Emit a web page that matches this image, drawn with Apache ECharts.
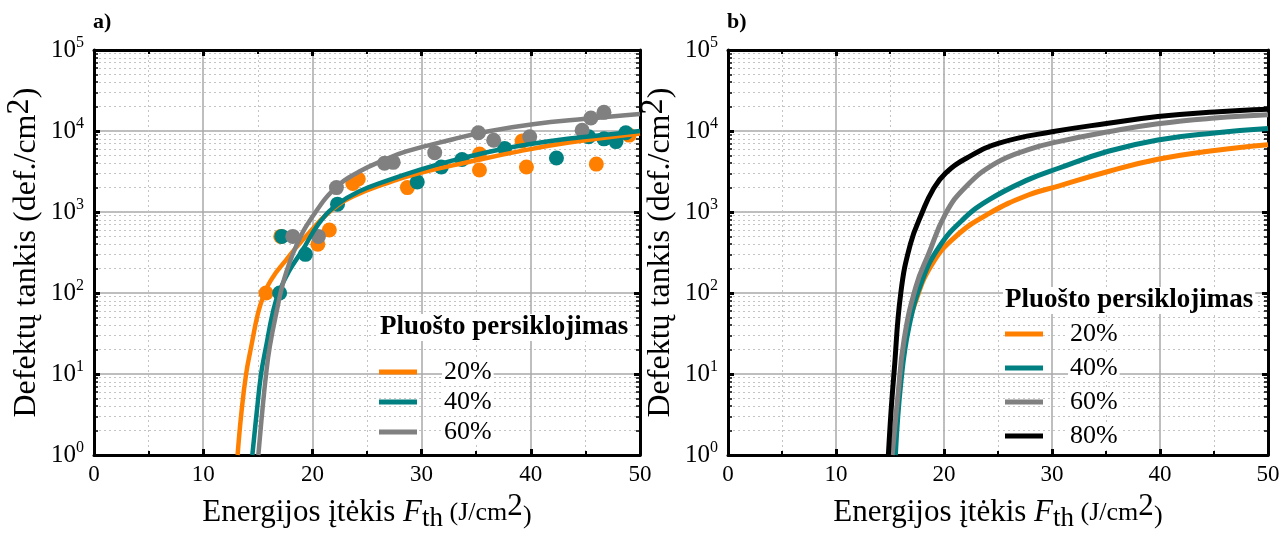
<!DOCTYPE html>
<html><head><meta charset="utf-8">
<script src="https://cdn.jsdelivr.net/npm/echarts@6/dist/echarts.min.js"></script>
<style>html,body{margin:0;padding:0;background:#fff}#c{width:1285px;height:541px}</style>
</head><body><div id="c"></div>
<script>
const FONT = '"Liberation Serif", "Times New Roman", Times, serif';
const xTickValues = [0, 10, 20, 30, 40, 50];
const yTickExponents = [0, 1, 2, 3, 4, 5];
const colorMap = { '20%': '#ff8000', '40%': '#008080', '60%': '#808080', '80%': '#000000' };

// ---- panel a): measured points ----
const ptsA20 = [[15.75,100],[17.1,500],[20.5,400],[21.55,600],[23.7,2250],[24.2,2550],[28.7,2000],[35.3,5200],[35.3,3300],[39.2,7500],[39.6,3600],[46.0,3900],[49.0,8900]];
const ptsA40 = [[17.0,100],[17.2,500],[19.36,300],[22.3,1250],[29.6,2350],[31.8,3600],[33.7,4450],[37.6,6100],[42.35,4650],[45.3,8500],[46.7,8000],[47.8,7400],[48.7,9500]];
const ptsA60 = [[18.2,500],[20.55,500],[22.2,2000],[26.6,4000],[27.4,4100],[31.2,5400],[35.2,9500],[36.6,7700],[39.9,8500],[44.7,10200],[45.5,14500],[46.7,17000]];
// ---- panel a): fitted curves ----
const fitA20 = [[13.15,1],[13.5,3.35],[13.93,10],[14.4,21.9],[15.0,55],[15.5,91],[16.0,129],[16.5,166],[17.0,204],[17.6,257],[18.5,363],[19.4,500],[21.55,1000],[23.7,1550],[26.7,2240],[29.8,3020],[34.4,4170],[38.9,5600],[43.5,7200],[50,9330]];
const fitA40 = [[14.5,1],[14.9,3.35],[15.3,10],[15.76,21.9],[16.37,56.9],[16.9,100],[17.9,190],[19.1,339],[20.6,724],[22.3,1250],[24.3,1800],[26.7,2400],[29.8,3310],[32.8,4300],[37.4,6000],[42.0,7600],[46.6,8910],[50,10000]];
const fitA60 = [[15.05,1],[15.4,3.35],[15.76,10],[16.1,21.9],[16.7,56.9],[17.4,146],[18.5,376],[20.0,871],[22.2,2040],[24.3,3160],[26.7,4470],[28.6,5600],[32.8,7850],[35.9,9800],[40.2,12100],[45.0,14130],[50,16220]];
// ---- panel b): curves ----
const fitB20 = [[15.4,1],[16.3,21.9],[17.4,81],[18.95,234],[21.1,501],[24.15,955],[27.8,1620],[30.6,2090],[35.2,3160],[39.8,4470],[45.05,5750],[50,6760]];
const fitB40 = [[15.5,1],[16.0,7.7],[16.75,38],[18.0,145],[19.55,372],[21.7,794],[24.15,1410],[27.8,2510],[30.6,3470],[35.2,5620],[39.8,7760],[45.05,9450],[50,10720]];
const fitB60 = [[15.2,1],[15.7,4.8],[16.3,26.3],[17.4,120],[18.6,309],[20.15,955],[22.0,2040],[24.75,3980],[27.8,5890],[30.6,7400],[35.2,9770],[39.8,12300],[45.05,14450],[50,15850]];
const fitB80 = [[14.85,1],[15.1,3.5],[15.37,10.2],[16.0,100],[16.9,407],[18.0,1000],[18.95,1860],[20.15,3020],[22.3,4790],[25.1,7080],[30.0,9770],[35.2,12450],[39.8,15100],[45.05,17200],[50,18620]];

const legendA = ['20%', '40%', '60%'];
const legendB = ['20%', '40%', '60%', '80%'];
const legendTitle = 'Pluošto persiklojimas';

const grids = [
  { left: 94, right: 645, top: 50, bottom: 86 },
  { left: 728, right: 17, top: 50, bottom: 86 }
];

function xAxisPair(g) {
  const base = {
    gridIndex: g, type: 'value', min: xTickValues[0], max: xTickValues[xTickValues.length - 1], interval: 10,
    axisLine: { show: true, onZero: false, lineStyle: { color: '#000', width: 3 } },
    axisTick: { show: true, inside: true, length: 6, lineStyle: { color: '#000', width: 3 } },
    minorTick: { show: true, splitNumber: 2, length: 4, lineStyle: { color: '#000', width: 2 } }
  };
  return [
    Object.assign({}, base, {
      position: 'bottom',
      axisLabel: { show: true, color: '#000', fontFamily: FONT, fontSize: 23, margin: 8 },
      splitLine: { show: true, lineStyle: { color: '#a8a8a8', width: 1.5 } },
      minorSplitLine: { show: true, lineStyle: { color: '#c4c4c4', width: 1, type: [2, 3] } },
      name: '{a|Energijos įtėkis }{i|F}{sub|th}{s| (J/cm}{sup|2}{p|)}',
      nameLocation: 'middle', nameGap: 33,
      nameTextStyle: {
        color: '#000', fontFamily: FONT, fontSize: 26,
        rich: {
          a: { fontSize: 31, fontFamily: FONT, color: '#000' },
          i: { fontSize: 31, fontFamily: FONT, fontStyle: 'italic', color: '#000' },
          sub: { fontSize: 27, fontFamily: FONT, color: '#000', padding: [12, 0, 0, 0] },
          s: { fontSize: 26, fontFamily: FONT, color: '#000' },
          p: { fontSize: 26, fontFamily: FONT, color: '#000', width: 9, padding: [6, 0, 0, 0] },
          sup: { fontSize: 31, fontFamily: FONT, color: '#000', padding: [0, 0, 13, 0] }
        }
      }
    }),
    Object.assign({}, base, {
      position: 'top',
      axisLabel: { show: false }, splitLine: { show: false }, minorSplitLine: { show: false }
    })
  ];
}

function yLabel(v) {
  const e = Math.round(Math.log10(v));
  return yTickExponents.indexOf(e) >= 0 ? '{b|10}{s|' + e + '}' : '';
}

function yAxisPair(g) {
  const base = {
    gridIndex: g, type: 'log', logBase: 10, min: 1, max: 100000,
    axisLine: { show: true, onZero: false, lineStyle: { color: '#000', width: 3 } },
    axisTick: { show: true, inside: true, length: 6, lineStyle: { color: '#000', width: 3 } },
    minorTick: { show: true, splitNumber: 9, length: 4, lineStyle: { color: '#000', width: 1.5 } }
  };
  return [
    Object.assign({}, base, {
      position: 'left',
      axisLabel: {
        show: true, margin: 10, formatter: yLabel,
        rich: {
          b: { fontSize: 25, fontFamily: FONT, color: '#000' },
          s: { fontSize: 16, fontFamily: FONT, color: '#000', padding: [0, 0, 14, 0] }
        }
      },
      splitLine: { show: true, lineStyle: { color: '#a8a8a8', width: 1.5 } },
      minorSplitLine: { show: true, lineStyle: { color: '#c4c4c4', width: 1, type: [2, 3] } },
      name: '{a|Defektų tankis (def./cm}{sup|2}{p|)}',
      nameLocation: 'middle', nameGap: 44,
      nameTextStyle: {
        color: '#000', fontFamily: FONT, fontSize: 32,
        rich: {
          a: { fontSize: 32, fontFamily: FONT, color: '#000' },
          p: { fontSize: 32, fontFamily: FONT, color: '#000', width: 11 },
          sup: { fontSize: 32, fontFamily: FONT, color: '#000', padding: [0, 0, 14, 0] }
        }
      }
    }),
    Object.assign({}, base, {
      position: 'right',
      axisLabel: { show: false }, splitLine: { show: false }, minorSplitLine: { show: false }
    })
  ];
}

function scatterSeries(name, data) {
  return { type: 'scatter', name: name, xAxisIndex: 0, yAxisIndex: 0, data: data,
    symbol: 'circle', symbolSize: 15, itemStyle: { color: colorMap[name], opacity: 1 }, z: 2 };
}
function lineSeries(name, data, axisIdx, width) {
  return { type: 'line', name: name, xAxisIndex: axisIdx, yAxisIndex: axisIdx, data: data,
    showSymbol: false, symbol: 'none', smooth: 0.45, clip: true,
    lineStyle: { color: colorMap[name], width: width }, itemStyle: { color: colorMap[name] }, z: 3 };
}

const series = [
  scatterSeries('20%', ptsA20), lineSeries('20%', fitA20, 0, 4.5),
  scatterSeries('40%', ptsA40), lineSeries('40%', fitA40, 0, 4.5),
  scatterSeries('60%', ptsA60), lineSeries('60%', fitA60, 0, 4.5),
  lineSeries('20%', fitB20, 2, 5), lineSeries('40%', fitB40, 2, 5),
  lineSeries('60%', fitB60, 2, 5), lineSeries('80%', fitB80, 2, 5)
];

function legendCfg(data, left, top, gap) {
  return {
    data: data, orient: 'vertical', left: left, top: top, itemGap: gap,
    itemWidth: 38, itemHeight: 5, icon: 'rect', selectedMode: false, padding: 0,
    formatter: function (n) { return '{g|}{t|' + n + '}'; },
    textStyle: {
      rich: {
        g: { width: 20, height: 28 },
        t: { fontSize: 26, fontFamily: FONT, color: '#000', backgroundColor: '#fff', lineHeight: 28, padding: [0, 2, 0, 2] }
      }
    }
  };
}

function titleCfg(text, left, top, size) {
  return { text: text, left: left, top: top, padding: [0, 2, 0, 2], backgroundColor: '#fff',
    textStyle: { fontFamily: FONT, fontWeight: 'bold', fontSize: size, color: '#000' } };
}

const option = {
  backgroundColor: '#fff',
  animation: false,
  title: [
    titleCfg('a)', 91, 11, 22),
    titleCfg('b)', 725, 11, 22),
    titleCfg(legendTitle, 378, 314, 27),
    titleCfg(legendTitle, 1003, 287, 27)
  ],
  grid: grids,
  xAxis: xAxisPair(0).concat(xAxisPair(1)),
  yAxis: yAxisPair(0).concat(yAxisPair(1)),
  legend: [
    legendCfg(legendA, 379, 359, 4),
    legendCfg(legendB, 1005, 321, 8)
  ],
  series: series
};

const chart = echarts.init(document.getElementById('c'), null, { renderer: 'canvas' });
chart.setOption(option);
</script></body></html>
